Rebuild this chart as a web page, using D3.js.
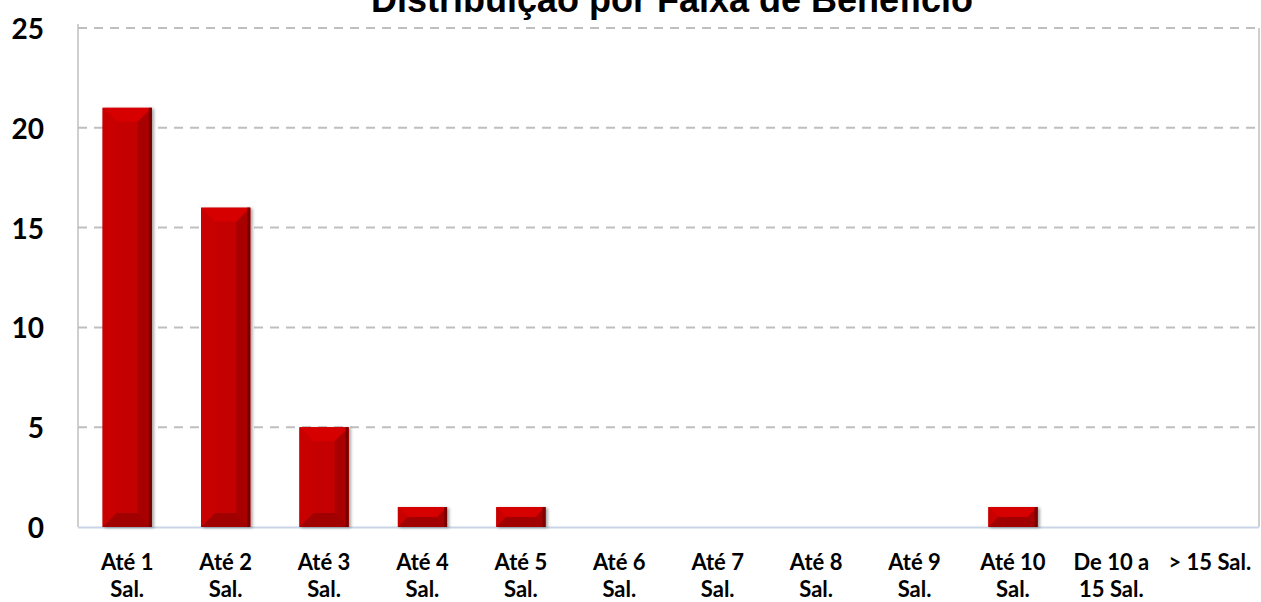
<!DOCTYPE html>
<html>
<head>
<meta charset="utf-8">
<script src="https://cdn.jsdelivr.net/npm/d3@7"></script>
<style>
  body { margin: 0; background: #fff; overflow: hidden; }
  text { font-family: Lato, "Open Sans", sans-serif; font-weight: bold; fill: #000; }
</style>
</head>
<body>
<script>
const width = 1261;
const height = 602;

const categories = [
  ["Até 1", "Sal."], ["Até 2", "Sal."], ["Até 3", "Sal."], ["Até 4", "Sal."],
  ["Até 5", "Sal."], ["Até 6", "Sal."], ["Até 7", "Sal."], ["Até 8", "Sal."],
  ["Até 9", "Sal."], ["Até 10", "Sal."], ["De 10 a", "15 Sal."], ["> 15 Sal."]
];
const values = [21, 16, 5, 1, 1, 0, 0, 0, 0, 1, 0, 0];
const yTicks = [0, 5, 10, 15, 20, 25];
const title = "Distribuição por Faixa de Benefício";

const margin = { top: 28, right: 2, bottom: 75, left: 78 };

const svg = d3.select("body").append("svg")
  .attr("width", width)
  .attr("height", height);

const x = d3.scaleBand()
  .domain(d3.range(categories.length))
  .range([margin.left, width - margin.right])
  .paddingInner(0.5)
  .paddingOuter(0.25);

const y = d3.scaleLinear()
  .domain([0, 25])
  .range([height - margin.bottom, margin.top]);

// drop shadow for bars
const defs = svg.append("defs");
const shadow = defs.append("filter").attr("id", "shadow")
  .attr("x", "-20%").attr("y", "-20%").attr("width", "150%").attr("height", "150%");
shadow.append("feDropShadow")
  .attr("dx", 2).attr("dy", 1).attr("stdDeviation", 1.5)
  .attr("flood-color", "#000").attr("flood-opacity", 0.35);

// grid lines
svg.append("g")
  .selectAll("line")
  .data(yTicks.filter(d => d > 0))
  .join("line")
  .attr("x1", margin.left)
  .attr("x2", width - margin.right)
  .attr("y1", d => y(d))
  .attr("y2", d => y(d))
  .attr("stroke", "#bfbfbf")
  .attr("stroke-width", 2)
  .attr("stroke-dasharray", "9,7");

// frame left / right
svg.append("line")
  .attr("x1", margin.left).attr("x2", margin.left)
  .attr("y1", y(25) - 4).attr("y2", y(0))
  .attr("stroke", "#bfbfbf").attr("stroke-width", 1.5);
svg.append("line")
  .attr("x1", width - margin.right).attr("x2", width - margin.right)
  .attr("y1", y(25)).attr("y2", y(0))
  .attr("stroke", "#bfbfbf").attr("stroke-width", 1.5);

// floor line
svg.append("line")
  .attr("x1", margin.left).attr("x2", width - margin.right)
  .attr("y1", y(0) + 0.5).attr("y2", y(0) + 0.5)
  .attr("stroke", "#c9d5e6").attr("stroke-width", 2);

// bars with bevel
const bars = svg.append("g")
  .selectAll("g")
  .data(values.map((v, i) => ({ v, i })).filter(d => d.v > 0))
  .join("g")
  .attr("filter", "url(#shadow)");

bars.each(function(d) {
  const g = d3.select(this);
  const x0 = x(d.i), x1 = x(d.i) + x.bandwidth();
  const y0 = y(d.v), y1 = y(0);
  const b = Math.min(14, (y1 - y0) / 2, x.bandwidth() / 2);
  const pts = a => a.map(p => p.join(",")).join(" ");
  g.append("rect")
    .attr("x", x0).attr("y", y0)
    .attr("width", x1 - x0).attr("height", y1 - y0)
    .attr("fill", "#c40000");
  // top
  g.append("polygon")
    .attr("points", pts([[x0, y0], [x1, y0], [x1 - b, y0 + b], [x0 + b, y0 + b]]))
    .attr("fill", "#d60000");
  // left
  g.append("polygon")
    .attr("points", pts([[x0, y0], [x0 + b, y0 + b], [x0 + b, y1 - b], [x0, y1]]))
    .attr("fill", "#c80000");
  // right
  g.append("polygon")
    .attr("points", pts([[x1, y0], [x1, y1], [x1 - b, y1 - b], [x1 - b, y0 + b]]))
    .attr("fill", "#a80000");
  // bottom
  g.append("polygon")
    .attr("points", pts([[x0, y1], [x0 + b, y1 - b], [x1 - b, y1 - b], [x1, y1]]))
    .attr("fill", "#a00000");
  // dark right edge
  g.append("rect")
    .attr("x", x1 - 3).attr("y", y0)
    .attr("width", 3).attr("height", y1 - y0)
    .attr("fill", "#7a0000");
});

// y axis labels
svg.append("g")
  .selectAll("text")
  .data(yTicks)
  .join("text")
  .attr("x", 44)
  .attr("y", d => y(d) + 1)
  .attr("dy", "0.36em")
  .attr("text-anchor", "end")
  .style("font-size", "28px")
  .text(d => d);

// x axis labels
const xl = svg.append("g")
  .selectAll("text")
  .data(categories)
  .join("text")
  .attr("x", (d, i) => x(i) + x.bandwidth() / 2)
  .attr("y", 570)
  .attr("text-anchor", "middle")
  .style("font-size", "22px");
xl.each(function(d, i) {
  const t = d3.select(this);
  d.forEach((line, k) => {
    t.append("tspan")
      .attr("x", x(i) + x.bandwidth() / 2)
      .attr("dy", k === 0 ? 0 : 27)
      .text(line);
  });
});

// title (clipped at top like the source)
svg.append("text")
  .attr("x", 672)
  .attr("y", 12)
  .attr("text-anchor", "middle")
  .style("font-family", "'Liberation Sans', Arial, sans-serif")
  .style("font-size", "36px")
  .text(title);
</script>
</body>
</html>
